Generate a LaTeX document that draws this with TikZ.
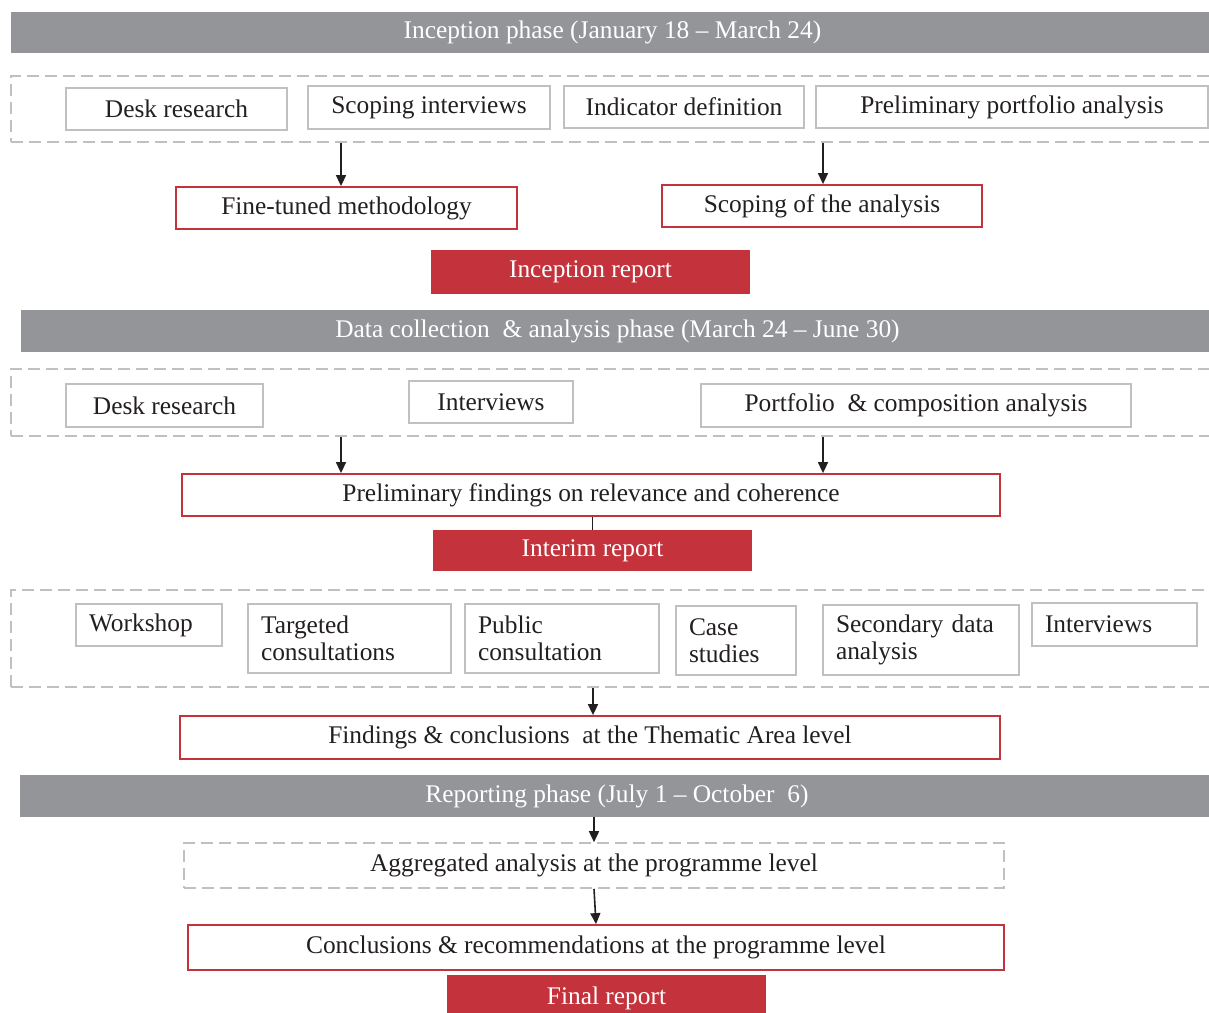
\documentclass[tikz,border=0pt]{standalone}
\usepackage{fontspec}
\setmainfont{Liberation Serif}
\usetikzlibrary{arrows.meta}
\definecolor{bargrey}{RGB}{147,149,152}
\definecolor{boxgrey}{RGB}{192,192,192}
\definecolor{repred}{RGB}{196,50,60}
\definecolor{ink}{RGB}{35,31,32}
\def\boxfont{\fontsize{12.7}{13.5}\selectfont}

\tikzset{
  span/.style n args={4}{minimum width={(#3-#1)*0.5pt}, minimum height={(#4-#2)*0.5pt},
    at={({(#1+#3)/2},{(#2+#4)/2})}},
  phasebar/.style={fill=bargrey, draw=none, inner sep=0pt, text=white, font=\boxfont},
  grpbox/.style={draw=boxgrey, line width=0.8pt, dash pattern=on 6pt off 3pt, inner sep=0pt, text=ink, font=\boxfont},
  greybox/.style={draw=boxgrey, line width=0.9pt, inner sep=0pt, text=ink, font=\boxfont},
  leftbox/.style={greybox, align=left, text width=#1},
  redbox/.style={draw=repred, line width=0.9pt, inner sep=0pt, text=ink, font=\boxfont},
  report/.style={fill=repred, draw=none, inner sep=0pt, text=white, font=\boxfont},
  arr/.style={draw=ink, line width=0.8pt, -{Triangle[length=5.5pt,width=5pt]}},
}

\begin{document}
\begin{tikzpicture}[x=0.5pt, y=-0.5pt]
	%%%%% START %%%%%
	\useasboundingbox (0,0) rectangle (1209,1012);

	\coordinate (colA) at (341,0);
	\coordinate (colB) at (823,0);

	% inception phase
	\node[phasebar, span={11}{12}{1214}{53}] (bar1) {Inception phase (January 18 -- March 24)};
	\node[grpbox, span={11}{76}{1216}{142}] (grp1) {};
	\node[greybox, span={66}{88}{287}{130}] (desk1) {Desk research};
	\node[greybox, span={308}{86}{550}{129}] (scopint) {Scoping interviews};
	\node[greybox, span={564}{86}{804}{128}] (indic) {Indicator definition};
	\node[greybox, span={816}{86}{1208}{128}] (prelport) {Preliminary portfolio analysis};

	\node[redbox, span={176}{187}{517}{229}] (fine) {Fine-tuned methodology};
	\node[redbox, span={662}{185}{982}{227}] (scope) {Scoping of the analysis};
	\node[report, span={431}{250}{750}{294}] (increp) {Inception report};

	\draw[arr] (colA |- grp1.south) -- (colA |- fine.north);
	\draw[arr] (colB |- grp1.south) -- (colB |- scope.north);

	% data collection phase
	\node[phasebar, span={21}{310}{1214}{352}] (bar2) {Data collection~ \& analysis phase (March 24 -- June 30)};
	\node[grpbox, span={11}{369}{1216}{436}] (grp2) {};
	\node[greybox, span={66}{384}{263}{427}] (desk2) {Desk research};
	\node[greybox, span={409}{381}{573}{423}] (interv1) {Interviews};
	\node[greybox, span={701}{384}{1131}{427}] (portcomp) {Portfolio~ \& composition analysis};

	\node[redbox, span={182}{474}{1000}{516}] (prelim) {Preliminary findings on relevance and coherence};
	\node[report, span={433}{530}{752}{571}] (intrep) {Interim report};

	\draw[arr] (colA |- grp2.south) -- (colA |- prelim.north);
	\draw[arr] (colB |- grp2.south) -- (colB |- prelim.north);
	\draw[ink, line width=0.8pt] (intrep.north |- prelim.south) -- (intrep.north);

	\node[grpbox, span={11}{590}{1216}{687}] (grp3) {};
	\node[leftbox=60pt, span={76}{604}{222}{646}] (work) {Workshop};
	\node[leftbox=88.5pt, span={248}{604}{451}{673}] (target) {Targeted\\consultations};
	\node[leftbox=84pt, span={465}{604}{659}{673}] (public) {Public\\consultation};
	\node[leftbox=47pt, span={676}{606}{796}{675}] (cases) {Case\\studies};
	\node[leftbox=85pt, span={823}{605}{1019}{675}] (second) {Secondary data\\analysis};
	\node[leftbox=69.5pt, span={1032}{603}{1197}{646}] (interv2) {Interviews};

	\node[redbox, span={180}{716}{1000}{759}] (findings) {Findings \& conclusions~ at the Thematic Area level};
	\draw[arr] ([xshift=1.5pt]findings.north |- grp3.south) -- ([xshift=1.5pt]findings.north);

	% reporting phase
	\node[phasebar, span={20}{775}{1214}{817}] (bar3) {Reporting phase (July 1 -- October~ 6)};
	\node[grpbox, span={184}{843}{1004}{888}] (aggr) {Aggregated analysis at the programme level};
	\node[redbox, span={188}{925}{1004}{970}] (concl) {Conclusions \& recommendations at the programme level};
	\node[report, span={447}{975}{766}{1021}] (finrep) {Final report};

	\draw[arr] (aggr.north |- bar3.south) -- (aggr.north);
	\draw[arr] (aggr.south) -- (concl.north);
	%%%%% END %%%%%
\end{tikzpicture}
\end{document}
